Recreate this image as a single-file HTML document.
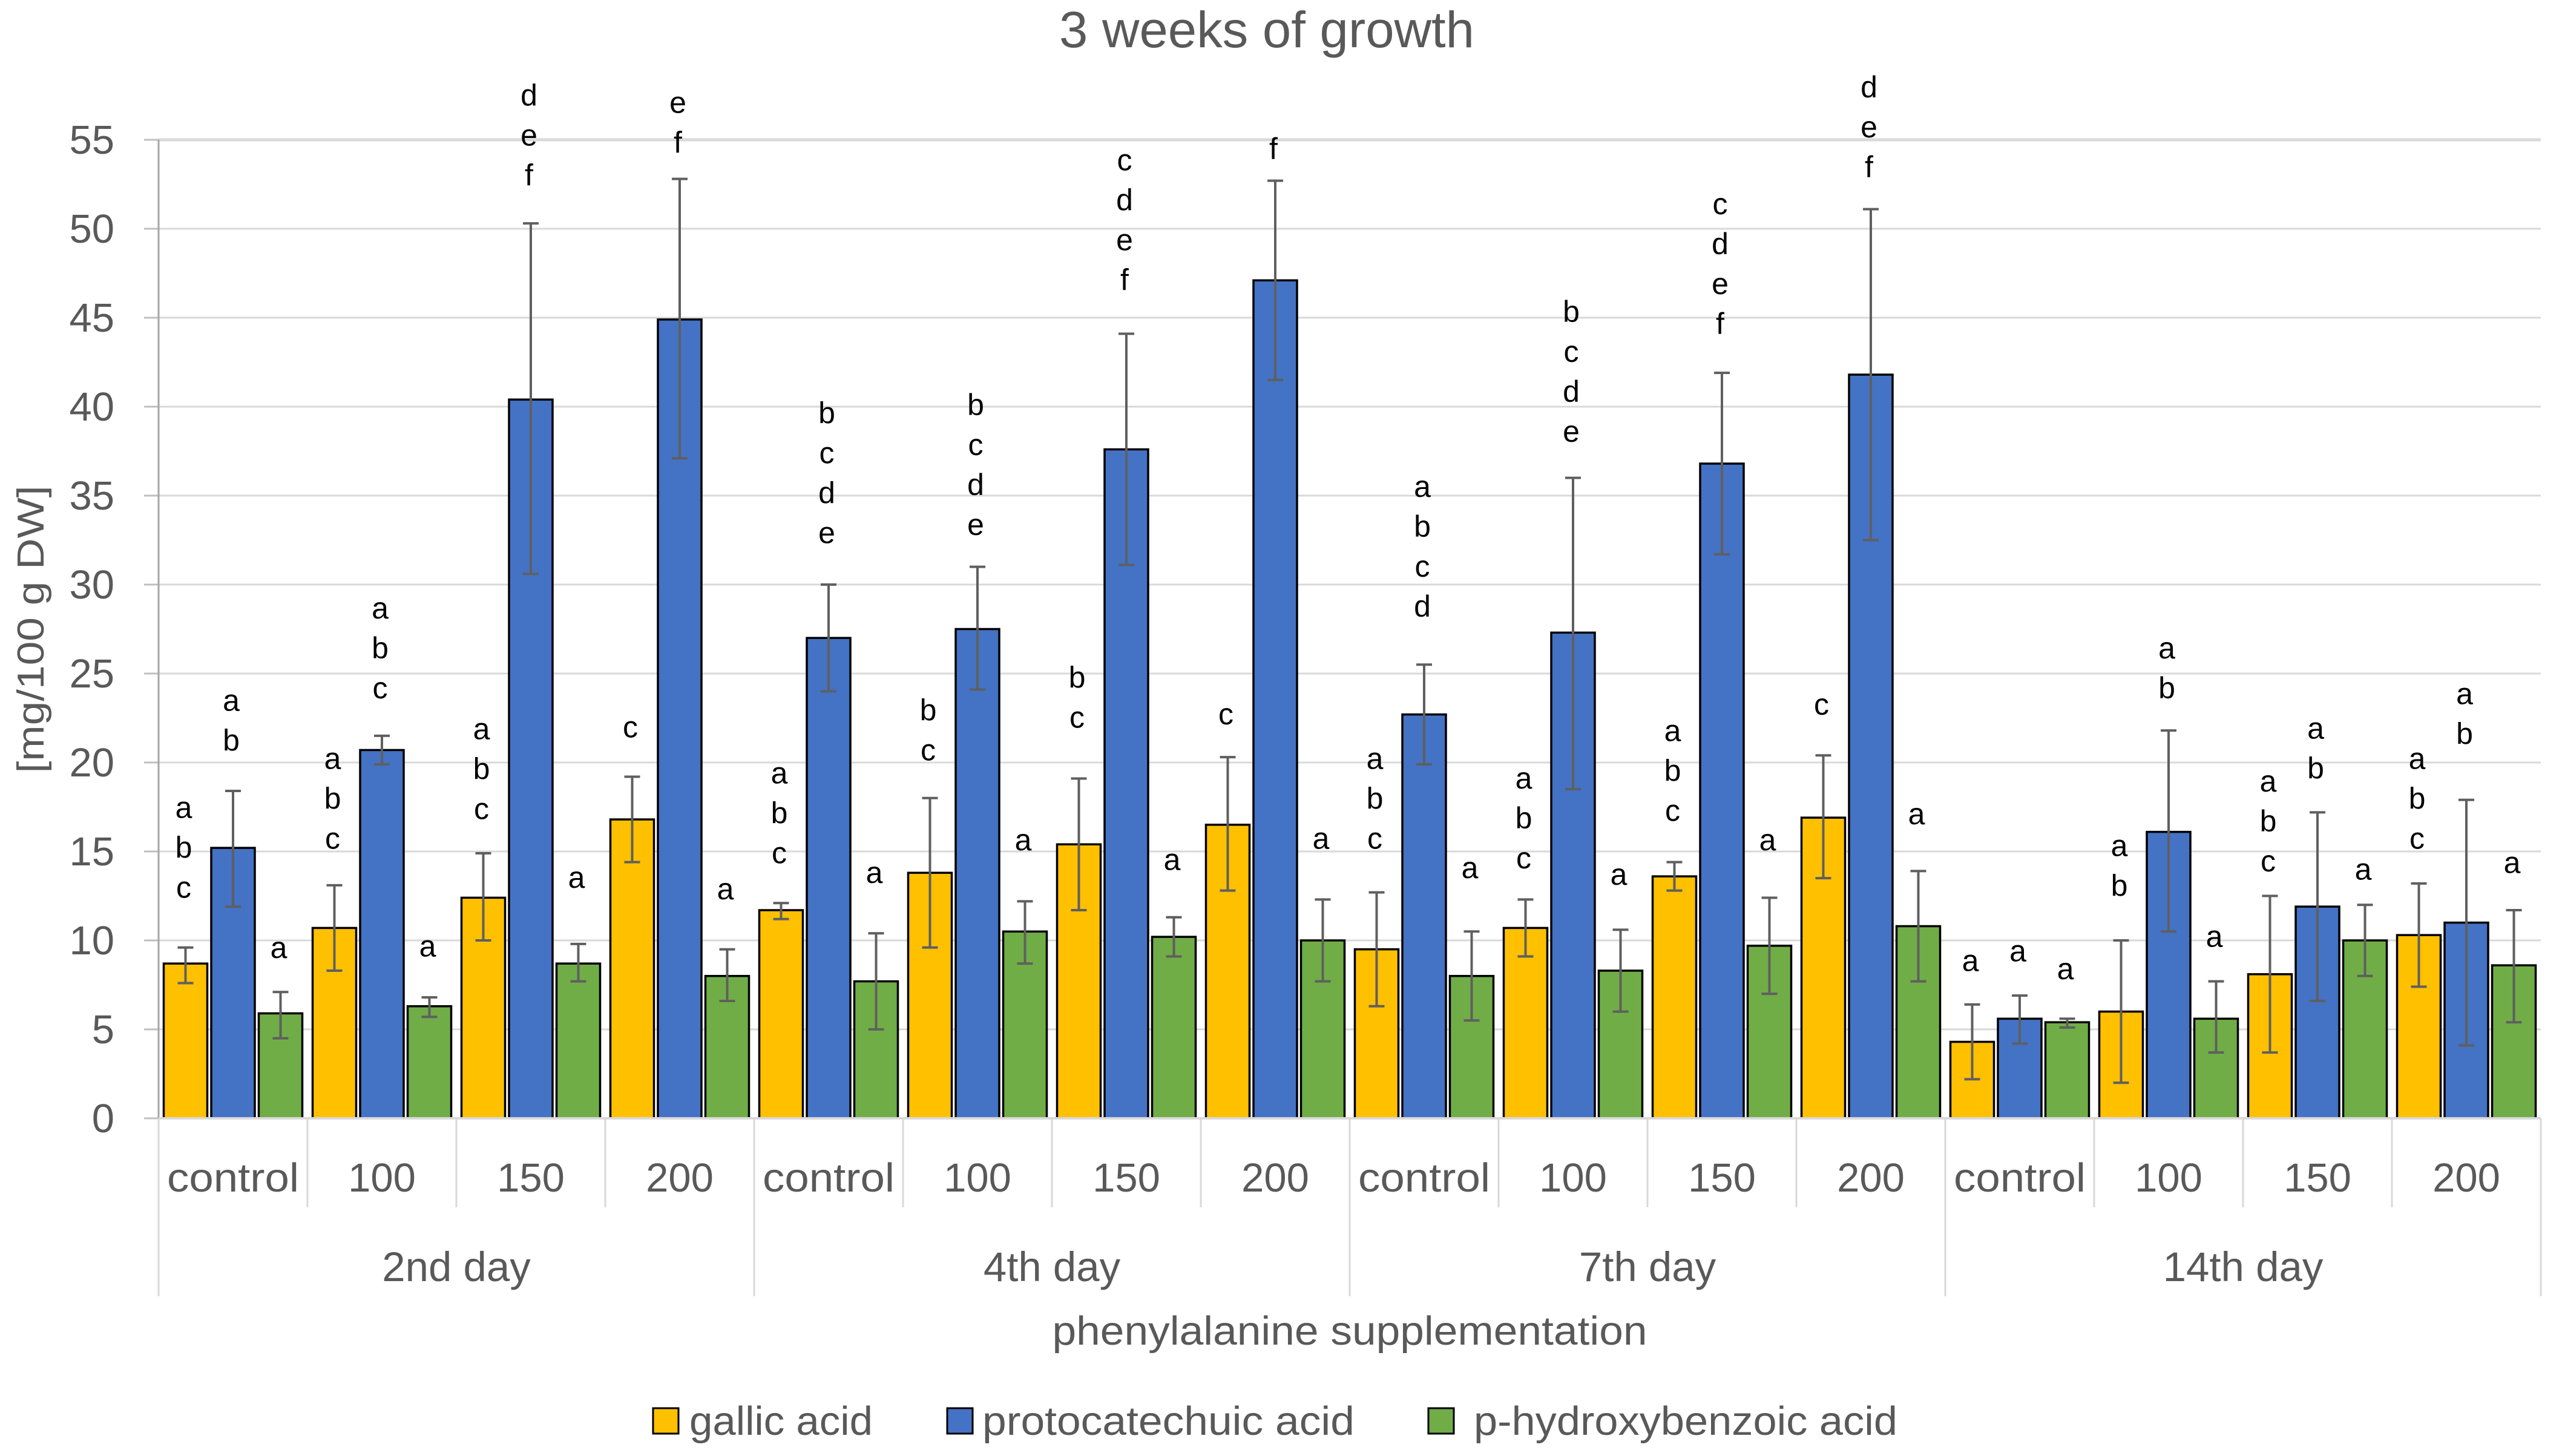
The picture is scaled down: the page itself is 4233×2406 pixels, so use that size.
<!DOCTYPE html>
<html lang="en">
<head>
<meta charset="utf-8">
<title>3 weeks of growth</title>
<style>
html,body{margin:0;padding:0;background:#fff;}
svg{display:block;}
text{font-family:"Liberation Sans",sans-serif;fill:#595959;}
</style>
</head>
<body>
<svg id="chart" width="4233" height="2406" viewBox="0 0 4233 2406" xmlns="http://www.w3.org/2000/svg">
  <rect width="4233" height="2406" fill="#ffffff"/>
  <g id="grid"></g>
  <g id="bars"></g>
  <g id="axes"></g>
  <g id="errors"></g>
  <g id="letters"></g>
  <text x="2093" y="78" font-size="84" text-anchor="middle" textLength="686" lengthAdjust="spacingAndGlyphs">3 weeks of growth</text>
  <text transform="translate(72,1040) rotate(-90)" font-size="62" text-anchor="middle" textLength="475" lengthAdjust="spacingAndGlyphs">[mg/100 g DW]</text>
  <text x="2230" y="2222" font-size="67" text-anchor="middle" textLength="983" lengthAdjust="spacingAndGlyphs">phenylalanine supplementation</text>
  <g>
    <g>
      <rect x="1079" y="2327" width="42" height="42" fill="#ffc000" stroke="#000" stroke-width="3"/>
      <text x="1139" y="2371" font-size="67" textLength="303" lengthAdjust="spacingAndGlyphs">gallic acid</text>
    </g>
    <g>
      <rect x="1565" y="2327" width="42" height="42" fill="#4472c4" stroke="#000" stroke-width="3"/>
      <text x="1623" y="2371" font-size="67" textLength="615" lengthAdjust="spacingAndGlyphs">protocatechuic acid</text>
    </g>
    <g>
      <rect x="2360" y="2327" width="42" height="42" fill="#70ad47" stroke="#000" stroke-width="3"/>
      <text x="2435" y="2371" font-size="67" textLength="700" lengthAdjust="spacingAndGlyphs">p-hydroxybenzoic acid</text>
    </g>
  </g>
</svg>
<script>
var yTicks = [0, 5, 10, 15, 20, 25, 30, 35, 40, 45, 50, 55];
var doses = ["control", "100", "150", "200"];
var days = ["2nd day", "4th day", "7th day", "14th day"];

var gallic = [8.7, 10.7, 12.4, 16.8, 11.7, 13.8, 15.4, 16.5, 9.5, 10.7, 13.6, 16.9, 4.3, 6.0, 8.1, 10.3];
var gallicHigh = [9.6, 13.1, 14.9, 19.2, 12.1, 18.0, 19.1, 20.3, 12.7, 12.3, 14.4, 20.4, 6.4, 10.0, 12.5, 13.2];
var gallicLow = [7.6, 8.3, 10.0, 14.4, 11.2, 9.6, 11.7, 12.8, 6.3, 9.1, 12.8, 13.5, 2.2, 2.0, 3.7, 7.4];
var gallicLetters = ["abc", "abc", "abc", "c", "abc", "bc", "bc", "c", "abc", "abc", "abc", "c", "a", "ab", "abc", "abc"];
var gallicLetterAt = [12.95, 15.7, 17.36, 21.95, 14.88, 20.66, 22.5, 22.68, 15.7, 14.6, 17.26, 23.23, 8.82, 13.04, 14.42, 15.7];

var proto = [15.2, 20.7, 40.4, 44.9, 27.0, 27.5, 37.6, 47.1, 22.7, 27.3, 36.8, 41.8, 5.6, 16.1, 11.9, 11.0];
var protoHigh = [18.4, 21.5, 50.3, 52.8, 30.0, 31.0, 44.1, 52.7, 25.5, 36.0, 41.9, 51.1, 6.9, 21.8, 17.2, 17.9];
var protoLow = [11.9, 19.9, 30.6, 37.1, 24.0, 24.1, 31.1, 41.5, 19.9, 18.5, 31.7, 32.5, 4.2, 10.5, 6.6, 4.1];
var protoLetters = ["ab", "abc", "def", "ef", "bcde", "bcde", "cdef", "f", "abcd", "bcde", "cdef", "def", "a", "ab", "ab", "ab"];
var protoLetterAt = [21.2, 24.15, 52.98, 54.82, 32.87, 33.33, 47.1, 54.45, 28.74, 38.57, 44.63, 53.44, 9.37, 24.15, 19.65, 21.58];

var hydroxy = [5.9, 6.3, 8.7, 8.0, 7.7, 10.5, 10.2, 10.0, 8.0, 8.3, 9.7, 10.8, 5.4, 5.6, 10.0, 8.6];
var hydroxyHigh = [7.1, 6.8, 9.8, 9.5, 10.4, 12.2, 11.3, 12.3, 10.5, 10.6, 12.4, 13.9, 5.6, 7.7, 12.0, 11.7];
var hydroxyLow = [4.5, 5.7, 7.7, 6.6, 5.0, 8.7, 9.1, 7.7, 5.5, 6.0, 7.0, 7.7, 5.1, 3.7, 8.0, 5.4];
var hydroxyLetters = ["a", "a", "a", "a", "a", "a", "a", "a", "a", "a", "a", "a", "a", "a", "a", "a"];
var hydroxyLetterAt = [9.55, 9.64, 13.5, 12.86, 13.77, 15.61, 14.5, 15.7, 14.05, 13.68, 15.61, 17.08, 8.36, 10.19, 13.96, 14.33];

var seriesNames = ["gallic-acid", "protocatechuic-acid", "p-hydroxybenzoic-acid"];
var seriesColors = ["#ffc000", "#4472c4", "#70ad47"];
var seriesValues = [gallic, proto, hydroxy];
var seriesHigh = [gallicHigh, protoHigh, hydroxyHigh];
var seriesLow = [gallicLow, protoLow, hydroxyLow];
var seriesLetters = [gallicLetters, protoLetters, hydroxyLetters];
var seriesLetterAt = [gallicLetterAt, protoLetterAt, hydroxyLetterAt];

var NS = "http://www.w3.org/2000/svg";
var plotLeft = 262, plotRight = 4198, plotBottom = 1848, plotTop = 231, yMax = 55;
var groupCount = gallic.length;
var groupWidth = (plotRight - plotLeft) / groupCount;
var barStep = 78.5, barWidth = 72, letterLine = 66, capHalf = 13;

function yScale(v) { return plotBottom - (v / yMax) * (plotBottom - plotTop); }
function xGroup(i) { return plotLeft + groupWidth * (i + 0.5); }
function xBar(i, s) { return xGroup(i) + (s - 1) * barStep; }
function make(parent, tag, attrs, txt) {
  var el = document.createElementNS(NS, tag);
  for (var k in attrs) el.setAttribute(k, attrs[k]);
  if (txt !== undefined) el.textContent = txt;
  parent.appendChild(el);
  return el;
}

var grid = document.getElementById("grid");
var axes = document.getElementById("axes");
var bars = document.getElementById("bars");
var errors = document.getElementById("errors");
var lettersG = document.getElementById("letters");

yTicks.forEach(function (t, idx) {
  var y = yScale(t);
  if (t > 0) {
    var g = make(grid, "line", { x1: plotLeft, x2: plotRight, y1: y, y2: y, stroke: "#d9d9d9", "stroke-width": idx === yTicks.length - 1 ? 5 : 3 });
    
    
  }
  var m = make(axes, "line", { x1: plotLeft - 24, x2: plotLeft, y1: y, y2: y, stroke: "#bfbfbf", "stroke-width": 3 });
  
  
  var l = make(axes, "text", { x: 189, y: y + 23, "font-size": 67, "text-anchor": "end" }, String(t));
  
  
});

var yAxis = make(axes, "line", { x1: plotLeft, x2: plotLeft, y1: plotTop, y2: plotBottom, stroke: "#a6a6a6", "stroke-width": 3 });


var xAxis = make(axes, "line", { x1: plotLeft, x2: plotRight, y1: plotBottom, y2: plotBottom, stroke: "#d9d9d9", "stroke-width": 4 });



for (var i = 0; i <= groupCount; i++) {
  var major = i % doses.length === 0;
  var sep = make(axes, "line", { x1: plotLeft + i * groupWidth, x2: plotLeft + i * groupWidth, y1: plotBottom, y2: major ? 2142 : 1995, stroke: "#d9d9d9", "stroke-width": 3 });
  
  
}

for (var g = 0; g < groupCount; g++) {
  var dose = doses[g % doses.length];
  var attrs = { x: xGroup(g), y: 1969, "font-size": 67, "text-anchor": "middle" };
  if (dose === "control") { attrs.textLength = 218; attrs.lengthAdjust = "spacingAndGlyphs"; }
  var dl = make(axes, "text", attrs, dose);
  
  
}

days.forEach(function (d, i) {
  var cx = plotLeft + (i + 0.5) * doses.length * groupWidth;
  var t = make(axes, "text", { x: cx, y: 2117, "font-size": 69, "text-anchor": "middle" }, d);
  
  
});

seriesValues.forEach(function (vals, s) {
  vals.forEach(function (v, i) {
    var cx = xBar(i, s);
    var top = yScale(v);
    var r = make(bars, "rect", { x: cx - barWidth / 2, y: top, width: barWidth, height: plotBottom - top, fill: seriesColors[s], stroke: "#000", "stroke-width": 3.5 });
    
    

    var hi = yScale(seriesHigh[s][i]), lo = yScale(seriesLow[s][i]);
    var eg = make(errors, "g", { stroke: "#5f5f5f", "stroke-width": 4, fill: "none" });
    
    
    make(eg, "line", { x1: cx, x2: cx, y1: hi, y2: lo });
    make(eg, "line", { x1: cx - capHalf, x2: cx + capHalf, y1: hi, y2: hi });
    make(eg, "line", { x1: cx - capHalf, x2: cx + capHalf, y1: lo, y2: lo });

    var word = seriesLetters[s][i];
    var baseY = yScale(seriesLetterAt[s][i]);
    for (var c = 0; c < word.length; c++) {
      var ly = baseY - (word.length - 1 - c) * letterLine + 16;
      var t = make(lettersG, "text", { x: cx - 3, y: ly, "font-size": 50, "text-anchor": "middle", style: "fill:#000" }, word.charAt(c));
      
      
    }
  });
});
</script>
</body>
</html>
